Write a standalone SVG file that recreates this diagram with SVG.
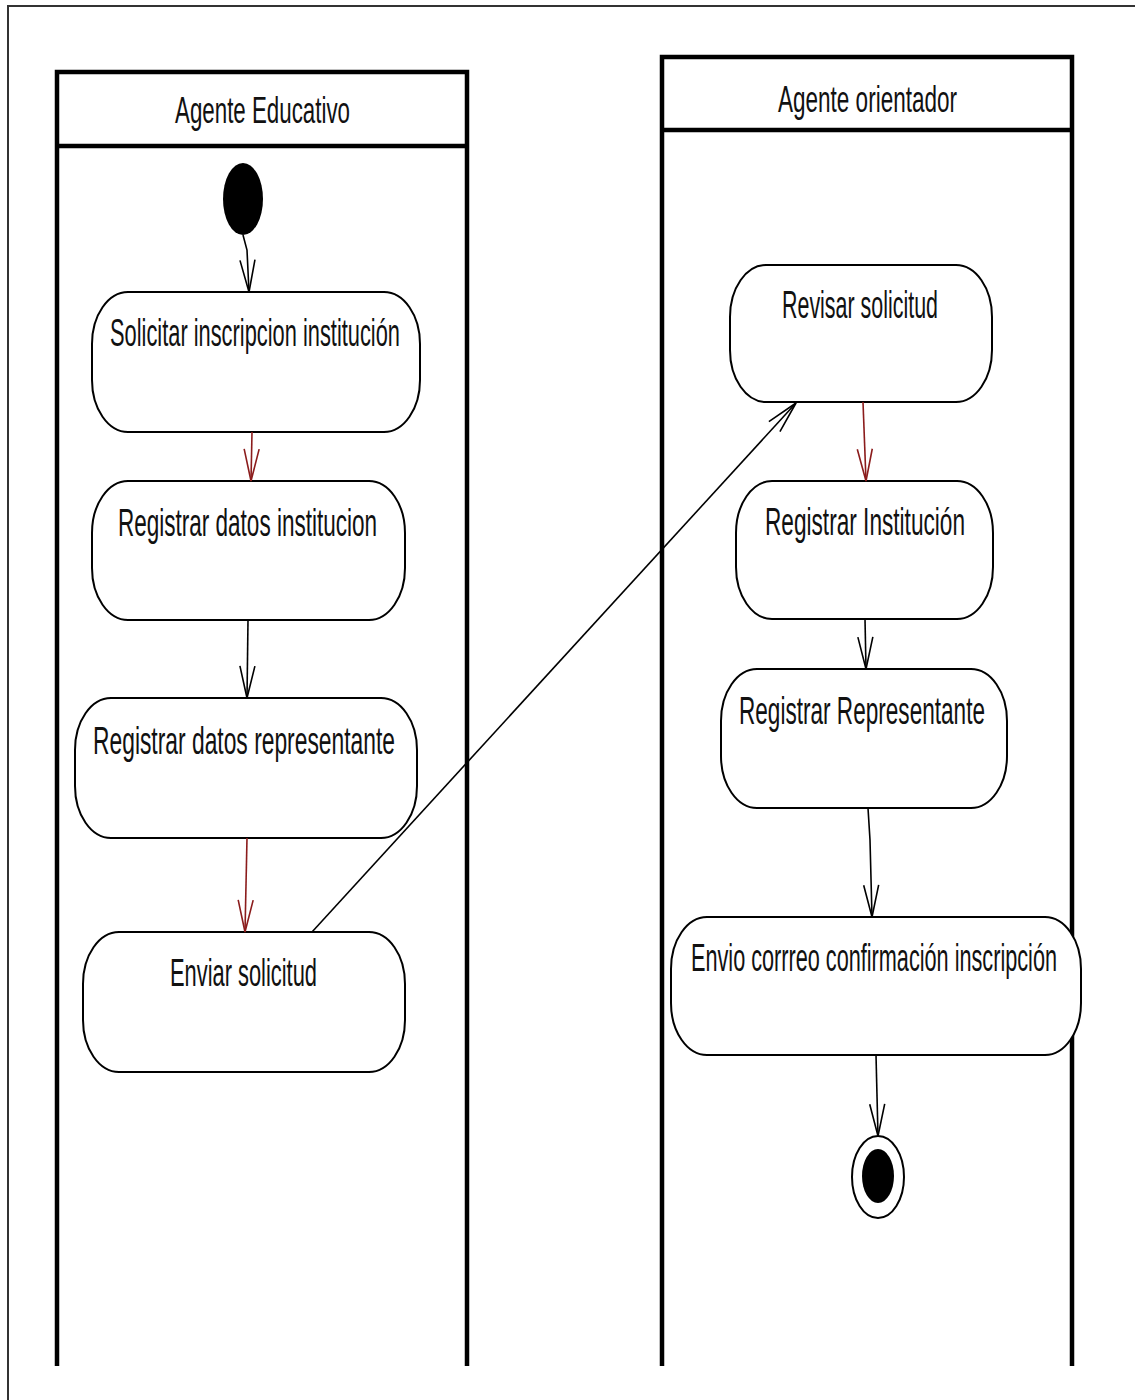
<svg xmlns="http://www.w3.org/2000/svg" width="1135" height="1400" viewBox="0 0 1135 1400">
  <style>
    .frame { fill: none; stroke: #333; stroke-width: 2; }
    .lane { fill: none; stroke: #000; stroke-width: 4.5; }
    .act { fill: #fff; stroke: #000; stroke-width: 2; }
    .lbl { font-family: "Liberation Sans", Arial, sans-serif; font-size: 38px; fill: #111; }
    .hdr { font-family: "Liberation Sans", Arial, sans-serif; font-size: 36px; fill: #111; }
    .flow { fill: none; stroke: #000; stroke-width: 1.6; }
    .flow-red { fill: none; stroke: #8b1c1c; stroke-width: 1.6; }
  </style>
  <defs>
    <marker id="ah" markerUnits="userSpaceOnUse" markerWidth="40" markerHeight="20" refX="32" refY="8" orient="auto" overflow="visible">
      <path d="M0,0.5 L32,8 L0,15.5" fill="none" stroke="#000" stroke-width="1.6"/>
    </marker>
    <marker id="ahr" markerUnits="userSpaceOnUse" markerWidth="40" markerHeight="20" refX="32" refY="8" orient="auto" overflow="visible">
      <path d="M0,0.5 L32,8 L0,15.5" fill="none" stroke="#8b1c1c" stroke-width="1.6"/>
    </marker>
  </defs>

  <rect x="0" y="0" width="1135" height="1400" fill="#fff"/>
  <path class="frame" d="M8,1400 V6 H1135"/>

  <g id="lane-educativo">
    <path class="lane" d="M57,1366 V72 H467 V1366"/>
    <line class="lane" x1="57" y1="146" x2="467" y2="146"/>
    <text class="hdr" x="175" y="123" textLength="175" lengthAdjust="spacingAndGlyphs">Agente Educativo</text>
  </g>

  <g id="lane-orientador">
    <path class="lane" d="M662,1366 V57 H1072 V1366"/>
    <line class="lane" x1="662" y1="130" x2="1072" y2="130"/>
    <text class="hdr" x="778" y="112" textLength="179" lengthAdjust="spacingAndGlyphs">Agente orientador</text>
  </g>

  <g id="start">
    <ellipse cx="243" cy="199" rx="20" ry="36" fill="#000"/>
  </g>

  <g id="solicitar">
    <rect class="act" x="92" y="292" width="328" height="140" rx="36" ry="52"/>
    <text class="lbl" x="110" y="346" textLength="290" lengthAdjust="spacingAndGlyphs">Solicitar inscripcion institución</text>
  </g>

  <g id="registrar-datos-institucion">
    <rect class="act" x="92" y="481" width="313" height="139" rx="36" ry="52"/>
    <text class="lbl" x="118" y="536" textLength="259" lengthAdjust="spacingAndGlyphs">Registrar datos institucion</text>
  </g>

  <g id="registrar-datos-representante">
    <rect class="act" x="75" y="698" width="342" height="140" rx="36" ry="52"/>
    <text class="lbl" x="93" y="754" textLength="302" lengthAdjust="spacingAndGlyphs">Registrar datos representante</text>
  </g>

  <g id="enviar-solicitud">
    <rect class="act" x="83" y="932" width="322" height="140" rx="36" ry="52"/>
    <text class="lbl" x="170" y="986" textLength="147" lengthAdjust="spacingAndGlyphs">Enviar solicitud</text>
  </g>

  <g id="revisar-solicitud">
    <rect class="act" x="730" y="265" width="262" height="137" rx="36" ry="52"/>
    <text class="lbl" x="782" y="318" textLength="156" lengthAdjust="spacingAndGlyphs">Revisar solicitud</text>
  </g>

  <g id="registrar-institucion">
    <rect class="act" x="736" y="481" width="257" height="138" rx="36" ry="52"/>
    <text class="lbl" x="765" y="535" textLength="200" lengthAdjust="spacingAndGlyphs">Registrar Institución</text>
  </g>

  <g id="registrar-representante">
    <rect class="act" x="721" y="669" width="286" height="139" rx="36" ry="52"/>
    <text class="lbl" x="739" y="724" textLength="246" lengthAdjust="spacingAndGlyphs">Registrar Representante</text>
  </g>

  <g id="envio-correo">
    <rect class="act" x="671" y="917" width="410" height="138" rx="36" ry="52"/>
    <text class="lbl" x="691" y="971" textLength="366" lengthAdjust="spacingAndGlyphs">Envio corrreo confirmación inscripción</text>
  </g>

  <g id="end">
    <ellipse cx="878" cy="1177" rx="26" ry="41" fill="#fff" stroke="#000" stroke-width="2"/>
    <ellipse cx="878" cy="1176" rx="16" ry="27" fill="#000"/>
  </g>

  <g id="connectors">
    <path class="flow" d="M243,235 L247,250 L249,292" marker-end="url(#ah)"/>
    <path class="flow-red" d="M252,432 L251,481" marker-end="url(#ahr)"/>
    <path class="flow" d="M248,620 L247,698" marker-end="url(#ah)"/>
    <path class="flow-red" d="M247,838 L245,932" marker-end="url(#ahr)"/>
    <path class="flow" d="M312,932 L796,403" marker-end="url(#ah)"/>
    <path class="flow-red" d="M863,402 L866,481" marker-end="url(#ahr)"/>
    <path class="flow" d="M865,619 L866,669" marker-end="url(#ah)"/>
    <path class="flow" d="M868,808 L870,840 L872,917" marker-end="url(#ah)"/>
    <path class="flow" d="M876,1055 L878,1136" marker-end="url(#ah)"/>
  </g>
</svg>
